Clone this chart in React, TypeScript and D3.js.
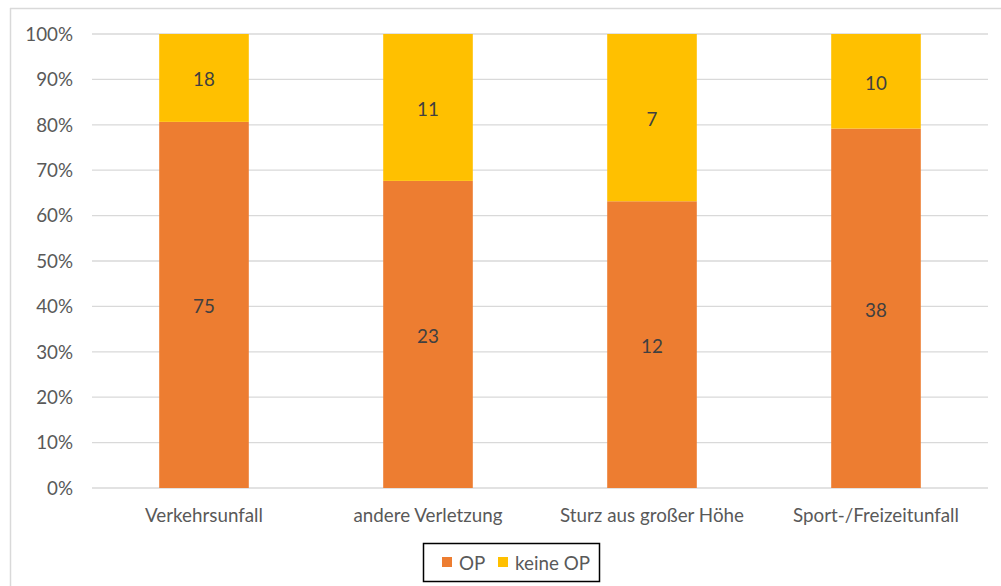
import React from "react";
import * as d3 from "d3";

const categories = ["Verkehrsunfall", "andere Verletzung", "Sturz aus großer Höhe", "Sport-/Freizeitunfall"];
const opValues = [75, 23, 12, 38];
const keineOpValues = [18, 11, 7, 10];
const seriesNames = ["OP", "keine OP"];
const seriesColors = ["#ED7D31", "#FFC000"];
const yTicks = [0, 0.1, 0.2, 0.3, 0.4, 0.5, 0.6, 0.7, 0.8, 0.9, 1];

const W = 1001;
const H = 586;
const plot = { left: 92, right: 988, top: 34, bottom: 488 };
const FONT = "Lato, 'Open Sans', sans-serif";
const FS = 18.8;

export default function App() {
  const x = d3
    .scaleBand<string>()
    .domain(categories)
    .range([plot.left, plot.right])
    .paddingInner(0.6)
    .paddingOuter(0.3);
  const y = d3.scaleLinear().domain([0, 1]).range([plot.bottom, plot.top]);

  const rows = categories.map((c, i) => ({ cat: c, op: opValues[i], keine: keineOpValues[i] }));
  const stack = d3
    .stack<{ cat: string; op: number; keine: number }>()
    .keys(["op", "keine"])
    .offset(d3.stackOffsetExpand);
  const layers = stack(rows);

  return (
    <svg
      width={W}
      height={H}
      style={{ position: "absolute", left: 0, top: 0, display: "block", background: "#fff" }}
    >
      {/* chart frame */}
      <line x1={10} x2={W} y1={8.5} y2={8.5} stroke="#D9D9D9" strokeWidth={1.5} />
      <line x1={10.5} x2={10.5} y1={8} y2={H} stroke="#D9D9D9" strokeWidth={1.5} />

      {/* gridlines and y labels */}
      {yTicks.map((t) => (
        <g key={t}>
          <line x1={plot.left} x2={plot.right} y1={y(t)} y2={y(t)} stroke="#D9D9D9" strokeWidth={1.3} />
          <text
            x={73}
            y={y(t)}
            dy="0.36em"
            textAnchor="end"
            fontFamily={FONT}
            fontSize={FS}
            fill="#595959"
          >
            {d3.format(".0%")(t)}
          </text>
        </g>
      ))}

      {/* stacked bars */}
      {layers.map((layer, li) =>
        layer.map((seg, i) => {
          const bx = x(categories[i])!;
          const y0 = y(seg[0]);
          const y1 = y(seg[1]);
          const value = li === 0 ? opValues[i] : keineOpValues[i];
          return (
            <g key={`${li}-${i}`}>
              <rect x={bx} y={y1} width={x.bandwidth()} height={y0 - y1} fill={seriesColors[li]} />
              <text
                x={bx + x.bandwidth() / 2}
                y={(y0 + y1) / 2}
                dy="0.45em"
                textAnchor="middle"
                fontFamily={FONT}
                fontSize={FS}
                fill="#404040"
              >
                {value}
              </text>
            </g>
          );
        })
      )}

      {/* category labels */}
      {categories.map((c) => (
        <text
          key={c}
          x={x(c)! + x.bandwidth() / 2}
          y={522}
          textAnchor="middle"
          fontFamily={FONT}
          fontSize={FS}
          fill="#595959"
        >
          {c}
        </text>
      ))}

      {/* legend */}
      <rect x={423.5} y={543.5} width={176} height={38} fill="#fff" stroke="#000" strokeWidth={1.5} />
      {seriesNames.map((s, i) => {
        const lx = i === 0 ? 442 : 498;
        return (
          <g key={s}>
            <rect x={lx} y={557} width={10} height={10} fill={seriesColors[i]} />
            <text x={lx + 17} y={569.5} fontFamily={FONT} fontSize={FS} fill="#595959">
              {s}
            </text>
          </g>
        );
      })}
    </svg>
  );
}
